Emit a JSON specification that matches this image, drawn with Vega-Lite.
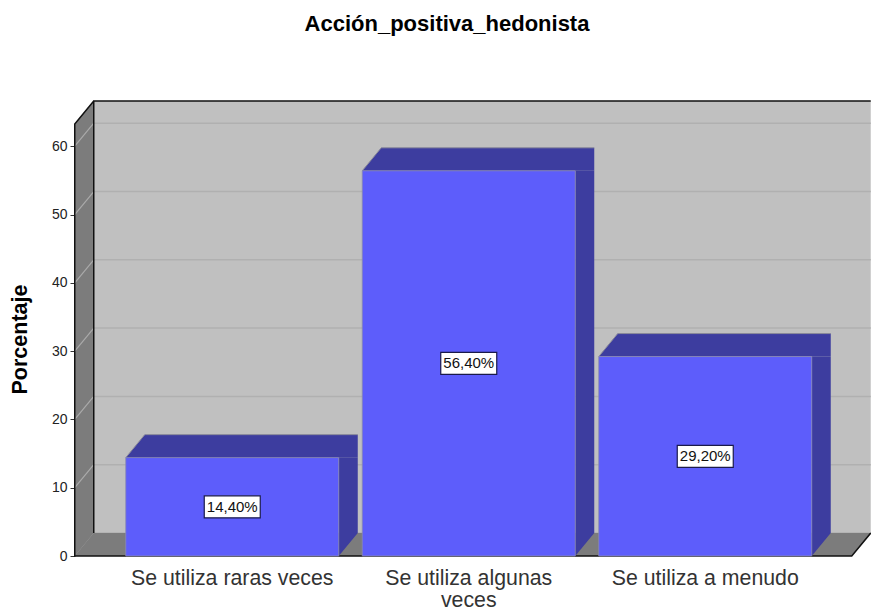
{
"$schema":"https://vega.github.io/schema/vega-lite/v6.json",
"width":796,"height":455,
"autosize":{"type":"none"},
"padding":{"left":75,"top":101,"right":0,"bottom":52},
"background":"#ffffff",
"view":{"stroke":null},
"config":{"font":"Liberation Sans"},
"title":{"text":"Acción_positiva_hedonista","font":"Liberation Sans","fontSize":22,"fontWeight":"bold","color":"#000000","anchor":"middle","dx":-26,"offset":62},
"datasets":{
"barras":[
{"categoria":"Se utiliza raras veces","porcentaje":14.4,"etiqueta":"14,40%"},
{"categoria":"Se utiliza algunas veces","porcentaje":56.4,"etiqueta":"56,40%"},
{"categoria":"Se utiliza a menudo","porcentaje":29.2,"etiqueta":"29,20%"}],
"marcas":[{"tick":0},{"tick":10},{"tick":20},{"tick":30},{"tick":40},{"tick":50},{"tick":60}],
"pared":[{"pared":"fondo"}]
},
"layer":[
{
"data":{"name":"barras"},
"encoding":{
"x":{"field":"categoria","type":"nominal","sort":null,"scale":{"domain":["Se utiliza raras veces","Se utiliza algunas veces","Se utiliza a menudo"],"range":[39,748.5],"paddingInner":0,"paddingOuter":0},
"axis":{"title":null,"labelAngle":0,"domain":false,"ticks":false,"labelFontSize":21.3,"labelColor":"#333333","labelFont":"Liberation Sans","labelPadding":11,"labelLimit":400,"labelLineHeight":22,"labelExpr":"datum.label == 'Se utiliza algunas veces' ? ['Se utiliza algunas','veces'] : datum.label"}},
"y":{"type":"quantitative","scale":{"domain":[0,66.62],"nice":false}}
},
"layer":[
{"data":{"name":"pared"},
"mark":{"type":"point","filled":true,"opacity":1,"size":4,"fill":"#c0c0c0","stroke":"#000000","strokeWidth":0,"shape":"M -138.5 -455 H 638.5 V -23 H -138.5 Z"},
"encoding":{"x":{"datum":"Se utiliza raras veces"},"y":{"datum":0}}},
{"data":{"name":"marcas"},
"mark":{"type":"point","filled":false,"opacity":1,"size":4,"stroke":"#b0b0b0","strokeWidth":1.5,"shape":"M -157.5 0 L -138.5 -23 H 638.5"},
"encoding":{"x":{"datum":"Se utiliza raras veces"},"y":{"field":"tick","type":"quantitative","axis":{"title":"Porcentaje","titleFontSize":21.5,"titleFontWeight":"bold","titleColor":"#000000","titleFont":"Liberation Sans","titleX":-44,"titleY":238,"values":[0,10,20,30,40,50,60],"grid":false,"domain":false,"tickSize":5,"tickColor":"#333333","labelFontSize":14,"labelColor":"#222222","labelFont":"Liberation Sans","labelPadding":3}}}},
{"data":{"name":"pared"},
"mark":{"type":"point","filled":true,"opacity":1,"size":4,"fill":"#7c7c7c","shape":"M -157.5 0 L -138.5 -23 H 638.5 L 619.5 0 Z"},
"encoding":{"x":{"datum":"Se utiliza raras veces"},"y":{"datum":0}}},
{"data":{"name":"pared"},
"mark":{"type":"point","filled":true,"opacity":1,"size":4,"fill":"#7c7c7c","shape":"M -157.5 -432 L -138.5 -455 V -23 L -157.5 0 Z"},
"encoding":{"x":{"datum":"Se utiliza raras veces"},"y":{"datum":0}}},
{"data":{"name":"marcas"},
"transform":[{"filter":"datum.tick > 0"}],
"mark":{"type":"point","filled":false,"opacity":1,"size":4,"stroke":"#aaaaaa","strokeWidth":1.2,"shape":"M -157.5 0 L -138.5 -23"},
"encoding":{"x":{"datum":"Se utiliza raras veces"},"y":{"field":"tick","type":"quantitative"}}},
{"data":{"name":"pared"},
"mark":{"type":"point","filled":false,"opacity":1,"size":4,"stroke":"#111111","strokeWidth":1.5,"shape":"M 638.5 -455 H -138.5 V -23 M -138.5 -455 L -157.5 -432 V 0 H 619.5 L 638.5 -23"},
"encoding":{"x":{"datum":"Se utiliza raras veces"},"y":{"datum":0}}},
{"mark":{"type":"bar","width":19,"xOffset":116,"fill":"#3d3d9f"},
"encoding":{"y":{"field":"porcentaje","type":"quantitative"},"y2":{"datum":3.37}}},
{"mark":{"type":"point","filled":true,"opacity":1,"size":4,"fill":"#3d3d9f","shape":"M 106.5 0 L 125.5 -23 L 106.5 -23 Z"},
"encoding":{"y":{"datum":0}}},
{"mark":{"type":"point","filled":true,"opacity":1,"size":4,"fill":"#3d3d9f","shape":"M -106.5 0 L -87.5 -23 H 125.5 V 0 Z"},
"encoding":{"y":{"field":"porcentaje","type":"quantitative"}}},
{"mark":{"type":"point","filled":false,"opacity":1,"size":4,"stroke":"#8a8a9a","strokeWidth":1,"shape":"M -106.5 0 L -87.5 -23 H 125.5"},
"encoding":{"y":{"field":"porcentaje","type":"quantitative"}}},
{"mark":{"type":"bar","width":213,"fill":"#5d5dfb","stroke":"#8a8ab0","strokeWidth":0.8},
"encoding":{"y":{"field":"porcentaje","type":"quantitative"},"y2":{"datum":0}}}
]
},
{
"data":{"name":"barras"},
"encoding":{
"x":{"field":"categoria","type":"nominal","sort":null},
"y":{"field":"porcentaje","type":"quantitative","axis":null,"scale":{"domain":[0,133.24],"nice":false}}
},
"layer":[
{"mark":{"type":"point","filled":true,"opacity":1,"size":4,"fill":"#ffffff","stroke":"#1a1a4a","strokeWidth":1.2,"shape":"M -28 -11 H 28 V 11 H -28 Z"}},
{"mark":{"type":"text","font":"Liberation Sans","fontSize":15,"color":"#111111","align":"center","baseline":"middle"},
"encoding":{"text":{"field":"etiqueta","type":"nominal"}}}
]
}
],
"resolve":{"scale":{"y":"independent"},"axis":{"y":"independent"}}
}
